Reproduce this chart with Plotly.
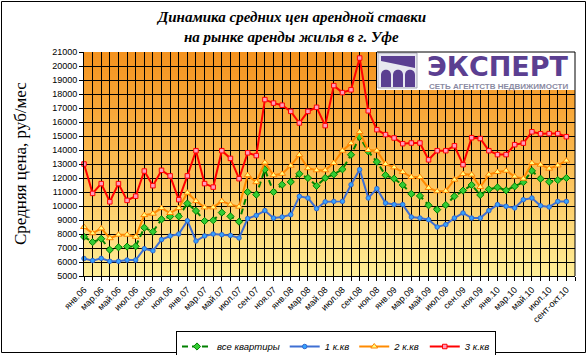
import plotly.graph_objects as go

# ---------------- data ----------------
categories = [
    "янв.06", "фев.06", "мар.06", "апр.06", "май.06", "июн.06", "июл.06", "авг.06", "сен.06", "окт.06", "ноя.06", "дек.06",
    "янв.07", "фев.07", "мар.07", "апр.07", "май.07", "июн.07", "июл.07", "авг.07", "сен.07", "окт.07", "ноя.07", "дек.07",
    "янв.08", "фев.08", "мар.08", "апр.08", "май.08", "июн.08", "июл.08", "авг.08", "сен.08", "окт.08", "ноя.08", "дек.08",
    "янв.09", "фев.09", "мар.09", "апр.09", "май.09", "июн.09", "июл.09", "авг.09", "сен.09", "окт.09", "ноя.09", "дек.09",
    "янв.10", "фев.10", "мар.10", "апр.10", "май.10", "июн.10", "июл.10", "авг.10", "сент-окт.10",
]

all_flats = [7800, 7420, 7660, 6870, 7050, 7100, 7120, 8450, 8160, 9050, 9250, 9260,
             10180, 9650, 8930, 8980, 9530, 9260, 8880, 11000, 10810, 12600, 11000, 11520,
             11720, 12300, 12000, 11440, 12000, 12260, 12620, 13660, 14940, 13900, 13150, 12200,
             11950, 11500, 10870, 10720, 10050, 9740, 10070, 10690, 11100, 11500, 10790, 11190,
             11330, 11120, 11400, 11700, 12510, 11950, 11730, 11850, 12000]

room1 = [6250, 6100, 6260, 6050, 6050, 6140, 6140, 6950, 6800, 7600, 7860, 8000,
         8950, 7500, 7860, 8000, 7950, 7900, 7720, 9100, 9330, 9670, 9140, 9210,
         9380, 10690, 10570, 9810, 10300, 10330, 10330, 11520, 12600, 10570, 11240, 10210,
         10100, 10100, 9210, 9140, 9020, 8500, 8670, 9140, 9500, 9140, 9140, 9670,
         10100, 9980, 9860, 10450, 10570, 10020, 9930, 10330, 10330]

room2 = [8500, 8050, 8400, 7700, 7950, 7950, 7800, 9350, 9450, 9850, 9500, 9850,
         10950, 10350, 9900, 9900, 10350, 10100, 9950, 12200, 11700, 13100, 12200, 12300,
         12880, 13650, 12700, 12550, 12550, 13070, 13950, 14480, 15290, 14000, 13950, 13000,
         12760, 12430, 12070, 12070, 11290, 11050, 11080, 11880, 12290, 12240, 11360, 12240,
         12430, 12520, 12100, 11950, 13070, 12950, 12670, 12900, 13240]

room3 = [13000, 10900, 11600, 10300, 11600, 10400, 10700, 12500, 11450, 12550, 12150, 10450,
         12150, 13950, 11600, 11350, 13950, 13400, 11950, 13800, 13600, 17600, 17350, 17200,
         16760, 15930, 16760, 17050, 15740, 18600, 18100, 18300, 20570, 16800, 15450, 15100,
         14860, 14450, 14500, 14500, 13300, 13950, 13950, 14300, 12950, 14880, 14820, 13950,
         13670, 13670, 14380, 14490, 15300, 15160, 15170, 15170, 14950]

series_names = ["все квартиры", "1 к.кв", "2 к.кв", "3 к.кв"]
y_ticks = list(range(5000, 21001, 1000))

# ---------------- geometry helpers ----------------
W, H = 588, 355
ML, MR, MT, MB = 84, 13, 52, 79
PW, PH = W - ML - MR, H - MT - MB


def px(x):
    return (x - ML) / PW


def py(y):
    return (H - MB - y) / PH


x_idx = list(range(len(categories)))
n_slots = len(categories) + 1  # one empty slot at the right edge
tickvals = list(range(n_slots))
ticktext = [categories[i] if (i < len(categories) and i % 2 == 0) else "" for i in tickvals]

fig = go.Figure()

fig.add_trace(go.Scatter(
    x=x_idx, y=all_flats, name=series_names[0], mode="lines+markers",
    line=dict(color="#008000", width=2, dash="6px,4px"),
    marker=dict(symbol="diamond", size=5.5, color="#33CC33", line=dict(color="#008000", width=1)),
    cliponaxis=False))
fig.add_trace(go.Scatter(
    x=x_idx, y=room1, name=series_names[1], mode="lines+markers",
    line=dict(color="#3F6FD3", width=2),
    marker=dict(symbol="circle", size=4.5, color="#33A3FF", line=dict(color="#3366CC", width=1)),
    cliponaxis=False))
fig.add_trace(go.Scatter(
    x=x_idx, y=room2, name=series_names[2], mode="lines+markers",
    line=dict(color="#FF8A00", width=2),
    marker=dict(symbol="triangle-up", size=6, color="#FFFF80", line=dict(color="#FF8000", width=1)),
    cliponaxis=False))
fig.add_trace(go.Scatter(
    x=x_idx, y=room3, name=series_names[3], mode="lines+markers",
    line=dict(color="#FF0000", width=2),
    marker=dict(symbol="square", size=4.5, color="#FF99BB", line=dict(color="#FF0000", width=1)),
    cliponaxis=False))

shapes = []
# gradient plot background
N = 70
stops = [(0.0, (244, 146, 30)), (0.5, (251, 188, 82)), (1.0, (255, 238, 152))]


def grad(f):
    for (f0, c0), (f1, c1) in zip(stops[:-1], stops[1:]):
        if f0 <= f <= f1:
            t = (f - f0) / (f1 - f0)
            return tuple(int(round(a + (b - a) * t)) for a, b in zip(c0, c1))
    return stops[-1][1]


for k in range(N):
    f = (k + 0.5) / N  # from top
    c = grad(f)
    shapes.append(dict(type="rect", xref="paper", yref="paper", x0=0, x1=1,
                       y0=max(0, 1 - (k + 1) / N - 0.002), y1=min(1, 1 - k / N + 0.002),
                       fillcolor="rgb(%d,%d,%d)" % c, line=dict(width=0), layer="below"))

# logo box
shapes.append(dict(type="rect", xref="paper", yref="paper", x0=px(377), x1=1.0, y0=py(90), y1=1.0,
                   fillcolor="white", line=dict(width=0), layer="above"))
shapes.append(dict(type="rect", xref="paper", yref="paper", x0=px(378), x1=px(417), y0=py(88), y1=py(53),
                   fillcolor="#E8E8F0", line=dict(color="#A8A8B8", width=1), layer="above"))
purple = "#5B3F91"
shapes.append(dict(type="path", xref="paper", yref="paper",
                   path="M %f,%f L %f,%f L %f,%f L %f,%f Z" % (px(381), py(56), px(415), py(56), px(415), py(68), px(381), py(61)),
                   fillcolor=purple, line=dict(width=0), layer="above"))
for a0, a1 in [(381, 391), (393, 403), (405, 415)]:
    path = "M %f,%f L %f,%f C %f,%f %f,%f %f,%f L %f,%f Z" % (
        px(a0), py(87), px(a0), py(75), px(a0), py(68), px(a1), py(68), px(a1), py(75), px(a1), py(87))
    shapes.append(dict(type="path", xref="paper", yref="paper", path=path,
                       fillcolor=purple, line=dict(width=0), layer="above"))

# plot-area right/top frame
shapes.append(dict(type="path", xref="paper", yref="paper",
                   path="M %f,%f L %f,%f L %f,%f" % (px(377), 1, 1, 1, 1, 0),
                   line=dict(color="black", width=1), layer="above"))

# outer chart border
shapes.append(dict(type="rect", xref="paper", yref="paper", x0=px(1.5), x1=px(585.5), y0=py(352.5), y1=py(1.5),
                   line=dict(color="black", width=1), fillcolor="rgba(0,0,0,0)", layer="above"))

annotations = [
    dict(text="Динамика средних цен арендной ставки", xref="paper", yref="paper", x=px(291), y=py(17),
         xanchor="center", yanchor="middle", showarrow=False,
         font=dict(family="Liberation Serif", size=15, color="black", style="italic", weight="bold")),
    dict(text="на рынке аренды жилья в г. Уфе", xref="paper", yref="paper", x=px(291), y=py(37),
         xanchor="center", yanchor="middle", showarrow=False,
         font=dict(family="Liberation Serif", size=15, color="black", style="italic", weight="bold")),
    dict(text="Средняя цена, руб/мес", xref="paper", yref="paper", x=px(20), y=py(164), textangle=-90,
         xanchor="center", yanchor="middle", showarrow=False,
         font=dict(family="Liberation Serif", size=17, color="black")),
    dict(text="ЭКСПЕРТ", xref="paper", yref="paper", x=px(498), y=py(66),
         xanchor="center", yanchor="middle", showarrow=False,
         font=dict(family="DejaVu Sans", size=27, color=purple, weight="bold")),
    dict(text="СЕТЬ АГЕНТСТВ НЕДВИЖИМОСТИ", xref="paper", yref="paper", x=px(498), y=py(86),
         xanchor="center", yanchor="middle", showarrow=False,
         font=dict(family="Liberation Sans", size=8, color="#8A8AA2", weight="bold")),
]

fig.update_layout(
    width=W, height=H,
    margin=dict(l=ML, r=MR, t=MT, b=MB, pad=0, autoexpand=False),
    paper_bgcolor="white", plot_bgcolor="#FBBC52",
    shapes=shapes, annotations=annotations,
    showlegend=True,
    legend=dict(orientation="h", x=px(336), xanchor="center", y=py(331), yanchor="top",
                bgcolor="white", bordercolor="black", borderwidth=1,
                font=dict(family="Liberation Sans", size=9.5, color="black", style="italic"),
                itemwidth=30, tracegroupgap=0),
    xaxis=dict(range=[0, n_slots - 1], tickmode="array", tickvals=tickvals, ticktext=ticktext,
               tickangle=-45, tickfont=dict(family="Liberation Sans", size=9, color="black"),
               showgrid=True, gridcolor="black", gridwidth=1, zeroline=False,
               showline=True, linecolor="black", linewidth=1,
               ticks="outside", ticklen=4, tickcolor="black"),
    yaxis=dict(range=[5000, 21000], tickmode="array", tickvals=y_ticks, tickformat="d",
               tickfont=dict(family="Liberation Sans", size=9, color="black"),
               showgrid=True, gridcolor="black", gridwidth=1, zeroline=False,
               showline=True, linecolor="black", linewidth=1,
               ticks="outside", ticklen=4, tickcolor="black"),
)

fig.write_html("out.html", config={"displayModeBar": False},
               post_script="document.body.style.margin='0';document.body.style.overflow='hidden';")
